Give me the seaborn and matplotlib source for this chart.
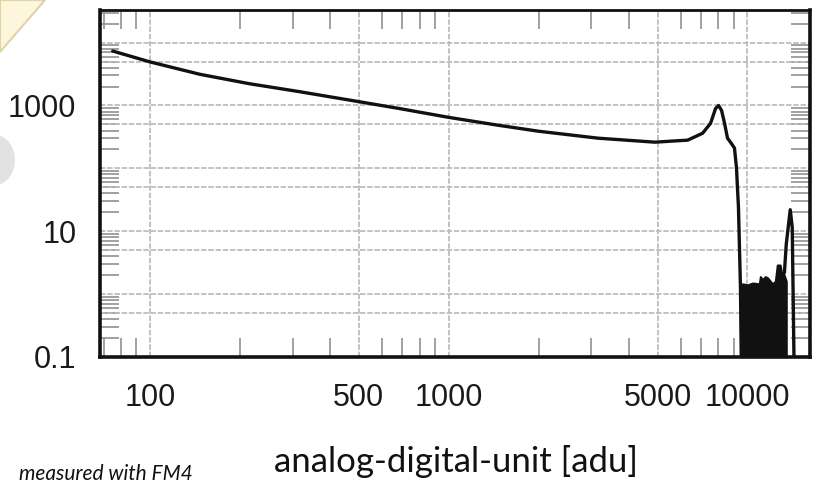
import matplotlib
matplotlib.use("Agg")
import matplotlib.pyplot as plt
import seaborn as sns
import pandas as pd
import numpy as np
from matplotlib.patches import Polygon, Ellipse

# ---- data ----
curve_x = [75, 100, 147, 215, 316, 497, 681, 1000, 1468, 1995, 3162, 4898,
           6310, 7079, 7527, 7823, 8006, 8193, 8383, 8577, 8776, 9051, 9191,
           9333, 9477, 9550]
curve_y = [7340, 4930, 3130, 2220, 1660, 1156, 897, 647, 484, 390, 302, 261,
           281, 362, 521, 897, 1000, 834, 521, 302, 261, 210, 102,
           24, 1.3, 0.05]

noise_x = [9550, 9623, 10000, 10390, 10960, 11050, 11220, 11480, 11700,
           12120, 12400, 12590, 12870, 13000, 13180, 13490]
noise_y = [0.05, 1.46, 1.4, 1.5, 1.46, 1.9, 1.7, 1.9, 1.8,
           1.46, 1.6, 2.9, 2.9, 2.2, 2.2, 1.6]

spike_x = [13300, 13490, 13910, 14125, 14345]
spike_y = [2.2, 6.2, 22, 11.6, 0.05]

x_ticks = [100, 500, 1000, 5000, 10000]
x_ticklabels = ["100", "500", "1000", "5000", "10000"]
y_ticks = [0.1, 10, 1000]
y_ticklabels = ["0.1", "10", "1000"]
x_grid = [100, 500, 1000, 5000, 10000]
y_grid = [0.5, 1, 5, 10, 50, 100, 500, 1000, 5000, 10000]

xlabel = "analog-digital-unit [adu]"
note = "measured with FM4"

# ---- style ----
sns.set_theme(style="white")
plt.rcParams["font.family"] = ["Liberation Sans", "DejaVu Sans"]

fig = plt.figure(figsize=(8.17, 4.83), dpi=100)
W, H = 817, 483
ax = fig.add_axes([100 / W, 1 - 357 / H, 710 / W, 347 / H])
ax.set_xscale("log")
ax.set_yscale("log")
ax.set_xlim(68, 16200)
ax.set_ylim(0.1, 33000)

for gx in x_grid:
    ax.axvline(gx, color="#bdbdbd", lw=1.3, ls=(0, (3, 1)), zorder=1)
for gy in y_grid:
    ax.axhline(gy, color="#bdbdbd", lw=1.3, ls=(0, (3, 1)), zorder=1)

df_curve = pd.DataFrame({"x": curve_x, "y": curve_y})
df_spike = pd.DataFrame({"x": spike_x, "y": spike_y})
sns.lineplot(data=df_curve, x="x", y="y", ax=ax, color="#111111", lw=2.4,
             estimator=None, sort=False, zorder=3)
ax.fill_between(noise_x, 0.05, noise_y, color="#111111", lw=1.5,
                edgecolor="#111111", zorder=3)
sns.lineplot(data=df_spike, x="x", y="y", ax=ax, color="#111111", lw=2.4,
             estimator=None, sort=False, zorder=3)

ax.set_xticks(x_ticks)
ax.set_xticklabels(x_ticklabels)
ax.set_yticks(y_ticks)
ax.set_yticklabels(y_ticklabels)
ax.tick_params(axis="both", which="major", length=0, labelsize=22,
               colors="#1a1a1a")
ax.tick_params(axis="x", which="major", pad=19)
ax.tick_params(axis="y", which="major", pad=17)
ax.xaxis.set_minor_locator(matplotlib.ticker.LogLocator(base=10, subs=(2, 3, 4, 6, 7, 8, 9), numticks=20))
ax.yaxis.set_minor_locator(matplotlib.ticker.LogLocator(base=10, subs=np.arange(2, 10), numticks=20))
ax.xaxis.set_minor_formatter(matplotlib.ticker.NullFormatter())
ax.yaxis.set_minor_formatter(matplotlib.ticker.NullFormatter())
ax.tick_params(axis="both", which="minor", direction="in", length=14,
               width=1.3, color="#9a9a9a", top=True, bottom=True,
               left=True, right=True)
ax.set_xlabel("")
ax.set_ylabel("")

for side in ["left", "bottom", "right", "top"]:
    ax.spines[side].set_color("#111111")
    ax.spines[side].set_linewidth(2.6)
ax.spines["top"].set_linewidth(2.0)

# x label and note
fig.text(456 / W, 1 - 472 / H, xlabel, ha="center", va="baseline",
         fontsize=25, family=["Lato", "DejaVu Sans"], color="#111111")
fig.text(193 / W, 1 - 480 / H, note, ha="right", va="baseline",
         fontsize=15, style="italic", family=["Lato", "DejaVu Sans"],
         color="#111111")

# slide decorations
tri = Polygon([(0, 1), (45 / W, 1), (0, 1 - 52 / H)], closed=True,
              transform=fig.transFigure, facecolor="#fcf6dc",
              edgecolor="#e2d3a6", lw=1.5, zorder=0)
fig.patches.append(tri)
blob = Ellipse((-5 / W, 1 - 160 / H), 40 / W, 50 / H, transform=fig.transFigure,
               facecolor="#d0d0d0", edgecolor="none", alpha=0.6, zorder=0)
fig.patches.append(blob)

fig.savefig("out.png", dpi=100)
